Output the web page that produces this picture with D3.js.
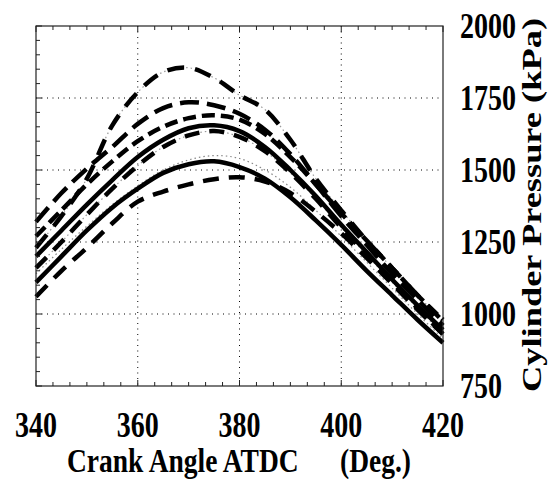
<!DOCTYPE html>
<html lang="en">
<head>
<meta charset="utf-8">
<title>Cylinder Pressure</title>
<script src="https://cdn.jsdelivr.net/npm/d3@7/dist/d3.min.js"></script>
<style>
  body { margin: 0; background: #fff; }
  text { font-family: "Liberation Serif", "Times New Roman", serif; font-weight: bold; fill: #000; }
</style>
</head>
<body>
<svg id="chart" width="553" height="481"></svg>
<script>
// ---------------------------------------------------------------
// Data
// ---------------------------------------------------------------
const crankAngles = [340, 345, 350, 355, 360, 365, 370, 375, 380, 385, 390, 395, 400, 405, 410, 415, 420];

const traceA = [1230, 1340, 1470, 1655, 1770, 1840, 1855, 1820, 1760, 1710, 1605, 1470, 1360, 1255, 1160, 1065, 975];
const traceB = [1320, 1420, 1505, 1580, 1660, 1715, 1735, 1725, 1695, 1640, 1555, 1450, 1340, 1240, 1140, 1050, 960];
const traceC = [1270, 1360, 1450, 1530, 1600, 1650, 1680, 1690, 1675, 1625, 1545, 1450, 1350, 1255, 1160, 1065, 980];
const traceD = [1200, 1290, 1380, 1465, 1545, 1605, 1645, 1655, 1635, 1580, 1500, 1410, 1310, 1215, 1120, 1030, 945];
const traceE = [1160, 1250, 1345, 1435, 1515, 1580, 1620, 1635, 1615, 1565, 1490, 1400, 1300, 1205, 1110, 1020, 930];
const traceF = [1110, 1200, 1290, 1370, 1435, 1490, 1520, 1530, 1510, 1470, 1405, 1325, 1240, 1150, 1065, 980, 900];
const traceG = [1060, 1150, 1230, 1315, 1390, 1425, 1450, 1468, 1475, 1460, 1420, 1355, 1280, 1195, 1105, 1015, 930];
const traceH = [1140, 1225, 1305, 1380, 1445, 1500, 1535, 1550, 1540, 1500, 1440, 1360, 1270, 1180, 1090, 1000, 915];

const xTickLabels = [340, 360, 380, 400, 420];
const yTickLabels = [750, 1000, 1250, 1500, 1750, 2000];

// ---------------------------------------------------------------
// Layout
// ---------------------------------------------------------------
const plotLeft = 36, plotRight = 443, plotTop = 26, plotBottom = 386;
const svg = d3.select("#chart");

const x = d3.scaleLinear().domain([340, 420]).range([plotLeft, plotRight]);
const y = d3.scaleLinear().domain([750, 2000]).range([plotBottom, plotTop]);

// grid
const grid = svg.append("g").attr("stroke", "#000").attr("stroke-width", 1)
  .attr("stroke-dasharray", "1,4.5").attr("fill", "none");
grid.selectAll("line.gx").data(xTickLabels.slice(1, -1)).join("line")
  .attr("x1", d => x(d)).attr("x2", d => x(d)).attr("y1", plotTop).attr("y2", plotBottom);
grid.selectAll("line.gy").data(yTickLabels.slice(1, -1)).join("line")
  .attr("y1", d => y(d)).attr("y2", d => y(d)).attr("x1", plotLeft).attr("x2", plotRight);

// ---------------------------------------------------------------
// Traces
// ---------------------------------------------------------------
const line = d3.line()
  .x((d, i) => x(crankAngles[i]))
  .y(d => y(d))
  .curve(d3.curveCatmullRom.alpha(0.5));

const traces = [
  { v: traceH, w: 1.2, dash: "1.5,3", color: "#888" },
  { v: traceA, w: 1.2, dash: "1.5,3", color: "#999" },
  { v: traceE, w: 1.2, dash: "1.5,3", color: "#999" },
  { v: traceA, w: 4.5, dash: "17,11", color: "#000" },
  { v: traceB, w: 4.5, dash: "19,8", color: "#000" },
  { v: traceC, w: 4.5, dash: "13,6", color: "#000" },
  { v: traceD, w: 4.5, dash: null, color: "#000" },
  { v: traceE, w: 4.5, dash: "15,10", color: "#000" },
  { v: traceF, w: 4.5, dash: null, color: "#000" },
  { v: traceG, w: 4.5, dash: "16,10", color: "#000" }
];

svg.append("g").selectAll("path").data(traces).join("path")
  .attr("d", d => line(d.v))
  .attr("fill", "none")
  .attr("stroke", d => d.color)
  .attr("stroke-width", d => d.w)
  .attr("stroke-linejoin", "round")
  .attr("stroke-dasharray", d => d.dash);

// ---------------------------------------------------------------
// Axes box and ticks
// ---------------------------------------------------------------
svg.append("rect")
  .attr("x", plotLeft).attr("y", plotTop)
  .attr("width", plotRight - plotLeft).attr("height", plotBottom - plotTop)
  .attr("fill", "none").attr("stroke", "#222").attr("stroke-width", 1.2);

const ticks = svg.append("g").attr("stroke", "#222").attr("stroke-width", 1);
const xMinor = d3.range(0, 25).map(i => 340 + i * 20 / 6);
ticks.selectAll("line.tb").data(xMinor).join("line")
  .attr("x1", d => x(d)).attr("x2", d => x(d))
  .attr("y1", plotBottom).attr("y2", (d, i) => plotBottom - (i % 6 === 0 ? 6 : 4));
ticks.selectAll("line.tt").data(xMinor).join("line")
  .attr("x1", d => x(d)).attr("x2", d => x(d))
  .attr("y1", plotTop).attr("y2", (d, i) => plotTop + (i % 6 === 0 ? 6 : 4));
const yMinor = d3.range(750, 2001, 50);
ticks.selectAll("line.tl").data(yMinor).join("line")
  .attr("y1", d => y(d)).attr("y2", d => y(d))
  .attr("x1", plotLeft).attr("x2", (d, i) => plotLeft + (i % 5 === 0 ? 6 : 4));

// tick labels
svg.append("g").selectAll("text").data(xTickLabels).join("text")
  .attr("transform", d => `translate(${x(d)},437) scale(1,1.3)`)
  .attr("text-anchor", "middle").attr("font-size", 28)
  .text(d => d);

svg.append("g").selectAll("text").data(yTickLabels).join("text")
  .attr("transform", d => `translate(460,${y(d) + 12}) scale(1,1.3)`)
  .attr("font-size", 28)
  .text(d => d);

// axis titles
svg.append("text")
  .attr("transform", "translate(67,472) scale(1,1.25)")
  .attr("font-size", 27.5)
  .text("Crank Angle ATDC");
svg.append("text")
  .attr("transform", "translate(340,472) scale(1,1.25)")
  .attr("font-size", 27.5)
  .text("(Deg.)");
svg.append("text")
  .attr("transform", "translate(541,205) rotate(-90) scale(1.3,1)")
  .attr("text-anchor", "middle").attr("font-size", 28)
  .text("Cylinder Pressure (kPa)");
</script>
</body>
</html>
